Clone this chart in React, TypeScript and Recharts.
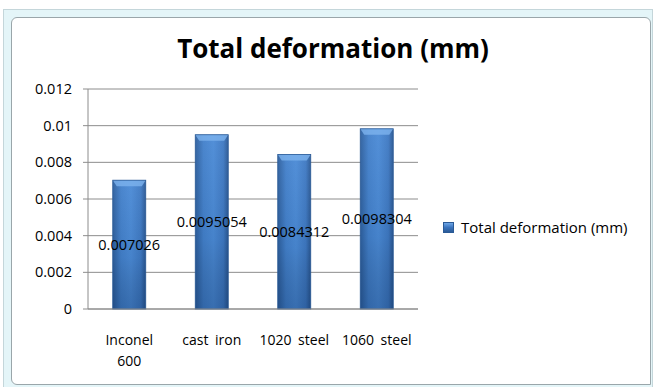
import { Bar, BarChart, CartesianGrid, LabelList, Text, XAxis, YAxis } from "recharts";

const categories = ["Inconel 600", "cast iron", "1020 steel", "1060 steel"];
const deformation = [0.007026, 0.0095054, 0.0084312, 0.0098304];
const yTicks = [0, 0.002, 0.004, 0.006, 0.008, 0.01, 0.012];
const seriesName = "Total deformation (mm)";

const data = categories.map((name, i) => ({ name, value: deformation[i] }));

const FONT = "'Open Sans', Lato, sans-serif";

function BarShape(props: any) {
  const { x, y, width, height } = props;
  if (!height || height <= 0) return null;
  const bevel = 6;
  return (
    <g>
      <rect x={x} y={y} width={width} height={height} fill="url(#barH)" />
      <rect x={x} y={y} width={width} height={height} fill="url(#barV)" />
      <polygon
        points={`${x},${y} ${x + width},${y} ${x + width - 4},${y + bevel} ${x + 4},${y + bevel}`}
        fill="#7db3ee"
        opacity={0.8}
      />
      <rect x={x} y={y} width={width} height={height} fill="none" stroke="#2a5a96" strokeWidth={0.8} />
    </g>
  );
}

function CategoryTick(props: any) {
  const { x, y, payload } = props;
  return (
    <Text
      x={x}
      y={y + 18}
      width={72}
      textAnchor="middle"
      verticalAnchor="start"
      lineHeight={21}
      fill="#000"
      fontSize={14}
      fontFamily={FONT}
      wordSpacing={3}
    >
      {payload.value}
    </Text>
  );
}

export default function App() {
  return (
    <div style={{ position: "fixed", left: 0, top: 0, width: 653, height: 387, background: "#fff", overflow: "hidden" }}>
      <div
        style={{
          position: "absolute",
          left: 3,
          top: 9,
          width: 650,
          height: 380,
          background: "#e4f5f8",
          border: "1px solid #c4d6da",
          boxSizing: "border-box",
        }}
      />
      <div
        style={{
          position: "absolute",
          left: 11,
          top: 17,
          width: 640,
          height: 368,
          background: "#fff",
          border: "1px solid #9aa6aa",
          borderTopLeftRadius: 6,
          borderTopRightRadius: 6,
          borderBottomLeftRadius: 6,
          boxSizing: "border-box",
        }}
      />
      <div
        style={{
          position: "absolute",
          left: 0,
          top: 30,
          width: 666,
          textAlign: "center",
          fontFamily: FONT,
          fontWeight: 700,
          fontSize: 26,
          color: "#000",
        }}
      >
        {seriesName}
      </div>
      <div style={{ position: "absolute", left: 0, top: 0 }}>
        <BarChart width={653} height={387} data={data} margin={{ top: 89, right: 235, bottom: 0, left: 0 }} barCategoryGap="30%">
          <defs>
            <linearGradient id="barH" x1="0" y1="0" x2="1" y2="0">
              <stop offset="0%" stopColor="#2d5f9e" />
              <stop offset="25%" stopColor="#4280cb" />
              <stop offset="55%" stopColor="#4a8ad6" />
              <stop offset="85%" stopColor="#3e79c3" />
              <stop offset="100%" stopColor="#2a5894" />
            </linearGradient>
            <linearGradient id="barV" x1="0" y1="0" x2="0" y2="1">
              <stop offset="0%" stopColor="#ffffff" stopOpacity={0.05} />
              <stop offset="60%" stopColor="#000000" stopOpacity={0.05} />
              <stop offset="100%" stopColor="#001a40" stopOpacity={0.25} />
            </linearGradient>
          </defs>
          <CartesianGrid vertical={false} stroke="#8c8c8c" strokeWidth={1} />
          <XAxis
            xAxisId="frame"
            type="number"
            domain={[0, 4]}
            ticks={[0, 1, 2, 3, 4]}
            height={0}
            tick={false}
            axisLine={false}
            tickLine={{ stroke: "#8c8c8c" }}
            tickSize={5}
          />
          <XAxis
            dataKey="name"
            height={78}
            tickLine={false}
            axisLine={{ stroke: "#8c8c8c" }}
            tick={<CategoryTick />}
            interval={0}
          />
          <YAxis
            width={88}
            domain={[0, 0.012]}
            ticks={yTicks}
            tickLine={{ stroke: "#8c8c8c" }}
            tickSize={5}
            tickMargin={11}
            axisLine={{ stroke: "#8c8c8c" }}
            tick={{ fill: "#000", fontSize: 14.5, fontFamily: FONT }}
            interval={0}
          />
          <Bar dataKey="value" name={seriesName} shape={<BarShape />} isAnimationActive={false}>
            <LabelList dataKey="value" position="center" fill="#000" fontSize={14.5} fontFamily={FONT} />
          </Bar>
        </BarChart>
      </div>
      <div
        style={{
          position: "absolute",
          left: 443,
          top: 217,
          display: "flex",
          alignItems: "center",
          fontFamily: FONT,
          fontSize: 15,
          color: "#000",
          whiteSpace: "nowrap",
        }}
      >
        <span
          style={{
            width: 9,
            height: 9,
            marginRight: 7,
            background: "linear-gradient(180deg, #6ea6e6 0%, #3a74be 50%, #2a5a96 100%)",
            border: "1px solid #2a5a96",
          }}
        />
        {seriesName}
      </div>
    </div>
  );
}
